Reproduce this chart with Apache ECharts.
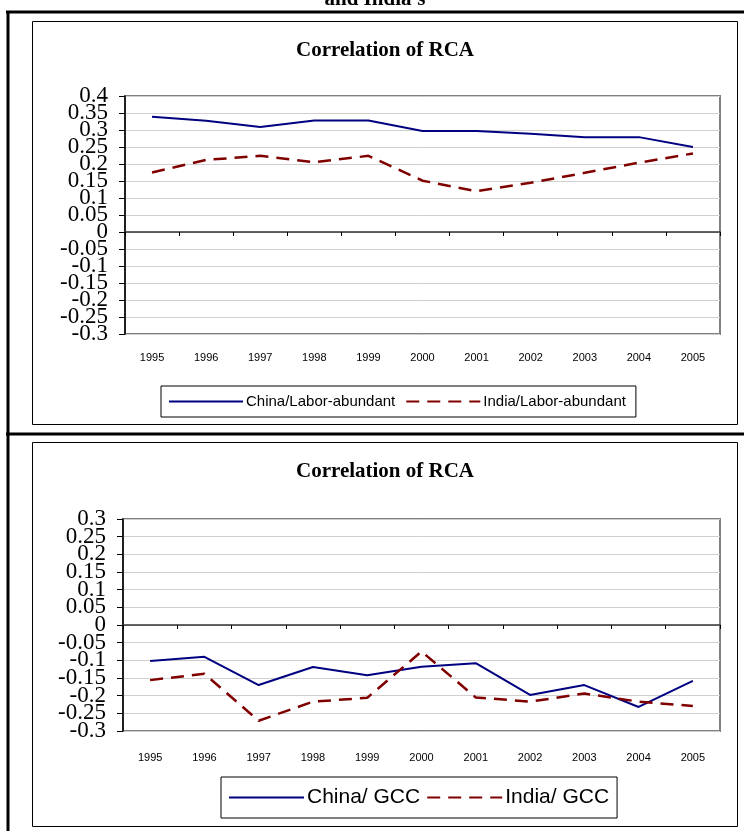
<!DOCTYPE html>
<html><head><meta charset="utf-8">
<script src="https://cdn.jsdelivr.net/npm/echarts@6/dist/echarts.min.js"></script>
<style>html,body{margin:0;padding:0;background:#fff}#c{width:744px;height:831px}</style>
</head><body><div id="c"></div>
<script>
const years = ['1995','1996','1997','1998','1999','2000','2001','2002','2003','2004','2005'];
const chinaLabor = [0.339,0.327,0.309,0.328,0.328,0.297,0.297,0.289,0.279,0.279,0.250];
const indiaLabor = [0.175,0.212,0.224,0.205,0.224,0.151,0.120,0.145,0.174,0.204,0.231];
const chinaGCC = [-0.102,-0.090,-0.170,-0.119,-0.142,-0.118,-0.108,-0.198,-0.170,-0.232,-0.158];
const indiaGCC = [-0.156,-0.138,-0.271,-0.217,-0.206,-0.075,-0.205,-0.217,-0.194,-0.217,-0.229];
const chartTitle = 'Correlation of RCA';
const topCutTitle = "and India's";

const chart = echarts.init(document.getElementById('c'), null, {renderer:'canvas'});
const fmt = v => { const r = Math.round(v*100)/100; return (Math.abs(r) < 1e-9) ? '0' : String(r); };
const labelBase = {fontFamily:'Liberation Serif', fontSize:23, color:'#000', margin:17};
// Axis A: line, ticks, grid, min/max labels only
function yAxisMain(gi, min, max){
  return {type:'value', gridIndex:gi, min:min, max:max, interval:0.05, position:'left',
    axisLine:{show:true, lineStyle:{color:'#000', width:1.5}},
    axisTick:{show:true, length:6, lineStyle:{color:'#000'}},
    axisLabel:Object.assign({}, labelBase, {showMinLabel:true, showMaxLabel:true,
      formatter:v => (Math.abs(v-min) < 1e-9 || Math.abs(v-max) < 1e-9) ? fmt(v) : ''}),
    splitLine:{show:true, lineStyle:{color:'#cfcfcf', width:1}}};
}
// Axis B: the inner labels only
function yAxisLabels(gi, min, max){
  return {type:'value', gridIndex:gi, min:min, max:max, interval:0.05, position:'left',
    axisLine:{show:false}, axisTick:{show:false}, splitLine:{show:false},
    axisLabel:Object.assign({}, labelBase, {showMinLabel:false, showMaxLabel:false, formatter:fmt})};
}
function xZero(gi){
  return {type:'category', gridIndex:gi, data:years, boundaryGap:true,
    axisLine:{show:true, onZero:true, onZeroAxisIndex: gi*2, lineStyle:{color:'#333', width:1.5}},
    axisTick:{show:true, length:4, inside:false, lineStyle:{color:'#000'}},
    axisLabel:{show:false}, splitLine:{show:false}};
}
function xBottom(gi, margin){
  return {type:'category', gridIndex:gi, data:years, position:'bottom', boundaryGap:true,
    axisLine:{show:false, onZero:false}, axisTick:{show:false},
    axisLabel:{show:true, fontFamily:'Liberation Sans', fontSize:11, color:'#000', margin:margin}};
}
const solid = c => ({color:c, width:2, type:'solid'});
const dashed = c => ({color:c, width:2.5, type:[13,8]});
const titleStyle = {fontFamily:'Liberation Serif', fontWeight:'bold', fontSize:21, fill:'#000', textAlign:'center', textVerticalAlign:'middle'};
chart.setOption({
  animation:false,
  grid:[
    {left:125, top:96, width:595, height:238, show:true, borderColor:'#808080', borderWidth:2, containLabel:false},
    {left:123, top:519, width:597, height:212, show:true, borderColor:'#808080', borderWidth:2, containLabel:false}
  ],
  xAxis:[xZero(0), xBottom(0, 18), xZero(1), xBottom(1, 21)],
  yAxis:[yAxisMain(0, -0.3, 0.4), yAxisLabels(0, -0.3, 0.4), yAxisMain(1, -0.3, 0.3), yAxisLabels(1, -0.3, 0.3)],
  legend:[
    {data:['China/Labor-abundant','India/Labor-abundant'], left:161, top:386, orient:'horizontal',
     itemWidth:74, itemHeight:14, itemGap:10, padding:[8,10,8,7], borderColor:'#000', borderWidth:1,
     itemStyle:{opacity:0},
     textStyle:{fontFamily:'Liberation Sans', fontSize:15, color:'#000', padding:[0,0,0,-2]}},
    {data:['China/ GCC','India/ GCC'], left:221, top:777, orient:'horizontal',
     itemWidth:75, itemHeight:16, itemGap:6, padding:[10,8,10,7], borderColor:'#000', borderWidth:1,
     itemStyle:{opacity:0},
     textStyle:{fontFamily:'Liberation Sans', fontSize:21, color:'#000', padding:[0,0,0,-2]}}
  ],
  series:[
    {name:'China/Labor-abundant', type:'line', xAxisIndex:0, yAxisIndex:0, data:chinaLabor, symbol:'none', lineStyle:solid('#000080'), itemStyle:{color:'#000080'}},
    {name:'India/Labor-abundant', type:'line', xAxisIndex:0, yAxisIndex:0, data:indiaLabor, symbol:'none', lineStyle:dashed('#800000'), itemStyle:{color:'#800000'}},
    {name:'China/ GCC', type:'line', xAxisIndex:2, yAxisIndex:2, data:chinaGCC, symbol:'none', lineStyle:solid('#000080'), itemStyle:{color:'#000080'}},
    {name:'India/ GCC', type:'line', xAxisIndex:2, yAxisIndex:2, data:indiaGCC, symbol:'none', lineStyle:dashed('#800000'), itemStyle:{color:'#800000'}}
  ],
  graphic:[
    {type:'text', x:375, y:10, style:Object.assign({}, titleStyle, {text:topCutTitle, textVerticalAlign:'bottom'})},
    {type:'text', x:385, y:51, style:Object.assign({}, titleStyle, {text:chartTitle})},
    {type:'text', x:385, y:472, style:Object.assign({}, titleStyle, {text:chartTitle})},
    {type:'line', shape:{x1:6, y1:12, x2:744, y2:12}, style:{stroke:'#000', lineWidth:3}},
    {type:'line', shape:{x1:8, y1:11, x2:8, y2:831}, style:{stroke:'#000', lineWidth:3}},
    {type:'line', shape:{x1:6, y1:434, x2:744, y2:434}, style:{stroke:'#000', lineWidth:3}},
    {type:'rect', shape:{x:32.5, y:21.5, width:705, height:403}, style:{fill:null, stroke:'#000', lineWidth:1}},
    {type:'rect', shape:{x:32.5, y:442.5, width:705, height:384}, style:{fill:null, stroke:'#000', lineWidth:1}}
  ]
});
</script></body></html>
